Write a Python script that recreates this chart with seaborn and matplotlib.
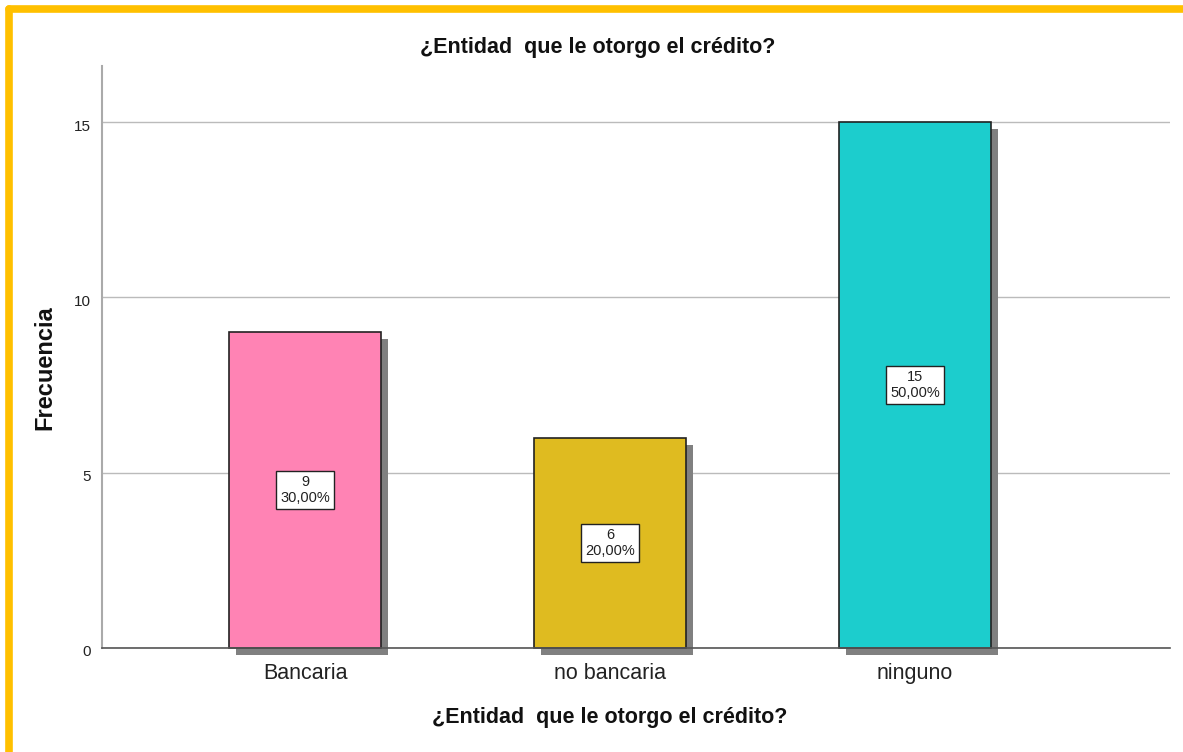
import matplotlib
matplotlib.use("Agg")
import matplotlib.pyplot as plt
import matplotlib.patheffects as pe
import matplotlib.transforms as mtransforms
import seaborn as sns
import pandas as pd

categories = ["Bancaria", "no bancaria", "ninguno"]
counts = [9, 6, 15]
percents = ["30,00%", "20,00%", "50,00%"]
colors = ["#FF83B4", "#DFBB20", "#1CCDCD"]
title = "¿Entidad  que le otorgo el crédito?"

sns.set_theme(style="white")
plt.rcParams['font.family'] = ['Liberation Sans', 'DejaVu Sans']

fig = plt.figure(figsize=(11.83, 7.52), dpi=100)
ax = fig.add_axes([102/1183, 1 - 648/752, (1170-102)/1183, (648-66)/752])

df = pd.DataFrame({"cat": categories, "n": counts})
sns.barplot(data=df, x="cat", y="n", hue="cat", palette=colors, legend=False,
            saturation=1, width=0.5, edgecolor="#222222", linewidth=1.2, ax=ax, zorder=3)

for p in ax.patches:
    p.set_clip_on(False)
    p.set_path_effects([pe.SimplePatchShadow(offset=(5, -5), shadow_rgbFace="#808080", alpha=1.0),
                        pe.Normal()])

for i, (c, pc) in enumerate(zip(counts, percents)):
    ax.text(i, c / 2, f"{c}\n{pc}", ha="center", va="center", fontsize=10.5,
            color="#222222", linespacing=1.15, zorder=5,
            bbox=dict(boxstyle="square,pad=0.3", facecolor="white", edgecolor="#222222", linewidth=1))

ax.set_xlim(-0.666, 2.836)
ax.set_ylim(0, 16.6)
ax.set_yticks([0, 5, 10, 15])
ax.yaxis.grid(True, color="#BBBBBB", linewidth=1, zorder=0)
ax.set_axisbelow(True)
for s in ["top", "right"]:
    ax.spines[s].set_visible(False)
ax.spines["left"].set_color("#AAAAAA")
ax.spines["left"].set_linewidth(1.5)
ax.spines["bottom"].set_color("#555555")
ax.spines["bottom"].set_linewidth(1.2)
ax.spines["bottom"].set_zorder(4)
ax.tick_params(axis="y", labelsize=11, length=0, pad=8, labelcolor="#222222")
ax.tick_params(axis="x", labelsize=15.5, length=0, pad=11, labelcolor="#222222")
offset = mtransforms.ScaledTranslation(0, -3/100, fig.dpi_scale_trans)
for lbl in ax.get_yticklabels():
    lbl.set_transform(lbl.get_transform() + offset)
ax.set_xlabel(title, fontsize=15.5, fontweight="bold", color="#111111")
ax.xaxis.set_label_coords((610-102)/1068, -(718-648)/582)
ax.xaxis.label.set_va("center")
ax.set_ylabel("Frecuencia", fontsize=17, fontweight="bold", color="#111111")
ax.yaxis.set_label_coords(-(102-45)/1068, (648-368)/582)
ax.yaxis.label.set_va("center")
fig.text(598/1183, 1 - 47/752, title, ha="center", va="center", fontsize=15.5,
         fontweight="bold", color="#111111")

# yellow frame (left and top)
fig.add_artist(plt.Line2D([8.5/1183, 8.5/1183], [0, 1 - 9/752], transform=fig.transFigure,
                          color="#FFC000", linewidth=5.5, solid_capstyle="round"))
fig.add_artist(plt.Line2D([8.5/1183, 1], [1 - 9/752, 1 - 9/752], transform=fig.transFigure,
                          color="#FFC000", linewidth=5.5, solid_capstyle="round"))

fig.savefig("out.png", dpi=100)
